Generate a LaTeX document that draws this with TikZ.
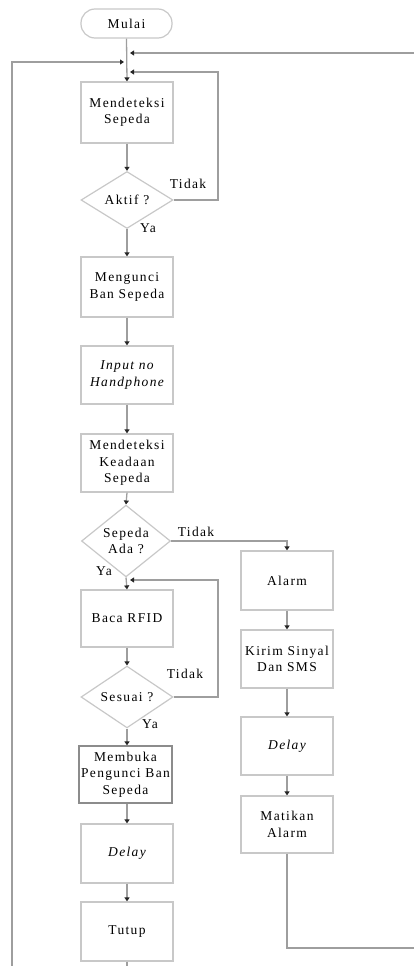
\documentclass[tikz,border=0pt]{standalone}
\usepackage{fontspec}
\setmainfont{Liberation Serif}[LetterSpace=10]
\usetikzlibrary{shapes.geometric,arrows.meta}
\definecolor{linegray}{RGB}{158,158,158}
\definecolor{boxgray}{RGB}{200,200,200}
\definecolor{darkbox}{RGB}{140,140,140}
\newcommand{\fnt}{\fontsize{13.5}{16.5}\selectfont}
\tikzset{
  box/.style={draw=boxgray, line width=1.2pt, minimum width=92pt, minimum height=58pt, inner sep=0pt, align=center, font=\fnt},
  dec/.style={diamond, draw=boxgray, line width=1.2pt, inner sep=0pt, align=center, font=\fnt},
  term/.style={draw=boxgray, line width=1.2pt, rounded corners=14pt, minimum width=91pt, minimum height=29pt, inner sep=0pt, font=\fnt},
  line/.style={draw=linegray, line width=1.3pt},
  arr/.style={line, -{Triangle[length=4pt,width=5pt,color=black!85]}},
  lbl/.style={inner sep=1pt, font=\fnt}
}
\begin{document}
\begin{tikzpicture}[x=1pt,y=-1pt]
\useasboundingbox (0,0) rectangle (414,966);
\clip (0,0) rectangle (414,966);
% nodes
\node[term] (mulai) at (126.5,23.5) {Mulai};
\node[box, minimum height=61pt] (det1) at (127,112.5) {Mendeteksi\\Sepeda};
\node[dec, minimum width=92pt, minimum height=57pt] (aktif) at (127,200) {Aktif ?};
\node[box, minimum height=60pt] (kunci) at (127,287) {Mengunci\\Ban Sepeda};
\node[box] (input) at (127,375) {\itshape Input no\\\itshape Handphone};
\node[box] (det2) at (127,463) {Mendeteksi\\Keadaan\\Sepeda};
\node[dec, minimum width=89pt, minimum height=58pt] (ada) at (126,541) {Sepeda\\Ada ?};
\node[box, minimum height=57pt] (baca) at (127,618.5) {Baca RFID};
\node[dec, minimum width=92pt, minimum height=56pt] (sesuai) at (127,697) {Sesuai ?};
\node[box, draw=darkbox, minimum width=93pt, minimum height=57pt] (buka) at (125.5,774.5) {Membuka\\Pengunci Ban\\Sepeda};
\node[box, minimum height=59pt] (delay1) at (127,853.5) {\itshape Delay};
\node[box, minimum height=59pt] (tutup) at (127,931.5) {Tutup};
\node[box, minimum height=59pt] (alarm) at (287,580.5) {Alarm};
\node[box] (kirim) at (287,659) {Kirim Sinyal\\Dan SMS};
\node[box] (delay2) at (287,746) {\itshape Delay};
\node[box, minimum height=57pt] (mati) at (287,824.5) {Matikan\\Alarm};
% labels
\node[lbl] (t1) at (188,184) {Tidak};
\node[lbl] (y1) at (148,228) {Ya};
\node[lbl] (t2) at (196,532) {Tidak};
\node[lbl] (y2) at (104,571) {Ya};
\node[lbl] (t3) at (185,674) {Tidak};
\node[lbl] (y3) at (150,724) {Ya};
% junctions
\coordinate (ja) at (130,53);
\coordinate (jb) at (124,62);
\coordinate (jc) at (130,72);
\coordinate (jd) at (130,580);
\coordinate (ra) at (420,53);
\coordinate (rb) at (420,948);
\coordinate (la) at (12,62);
\coordinate (lb) at (12,990);
\coordinate (lc) at (127,990);
\coordinate (ka) at (218,72);
\coordinate (kb) at (218,200);
\coordinate (kc) at (218,580);
\coordinate (kd) at (218,697);
\coordinate (me) at (287,541);
\coordinate (mf) at (287,948);
% main flow
\draw[arr] (mulai.south) -- (det1.north);
\draw[arr] (det1.south) -- (aktif.north);
\draw[arr] (aktif.south) -- (kunci.north);
\draw[arr] (kunci.south) -- (input.north);
\draw[arr] (input.south) -- (det2.north);
\draw[arr] (det2.south) -- (ada.north);
\draw[arr] (ada.south) -- (baca.north);
\draw[arr] (baca.south) -- (sesuai.north);
\draw[arr] (sesuai.south) -- (buka.north -| sesuai.south);
\draw[arr] (buka.south -| delay1.north) -- (delay1.north);
\draw[arr] (delay1.south) -- (tutup.north);
% right branch
\draw[arr] (ada.east) -- (me) -- (alarm.north);
\draw[arr] (alarm.south) -- (kirim.north);
\draw[arr] (kirim.south) -- (delay2.north);
\draw[arr] (delay2.south) -- (mati.north);
% loops
\draw[arr] (aktif.east) -- (kb) -- (ka) -- (jc);
\draw[arr] (sesuai.east) -- (kd) -- (kc) -- (jd);
\draw[arr] (mati.south) -- (mf) -- (rb) -- (ra) -- (ja);
\draw[arr] (tutup.south) -- (lc) -- (lb) -- (la) -- (jb);
\end{tikzpicture}
\end{document}
